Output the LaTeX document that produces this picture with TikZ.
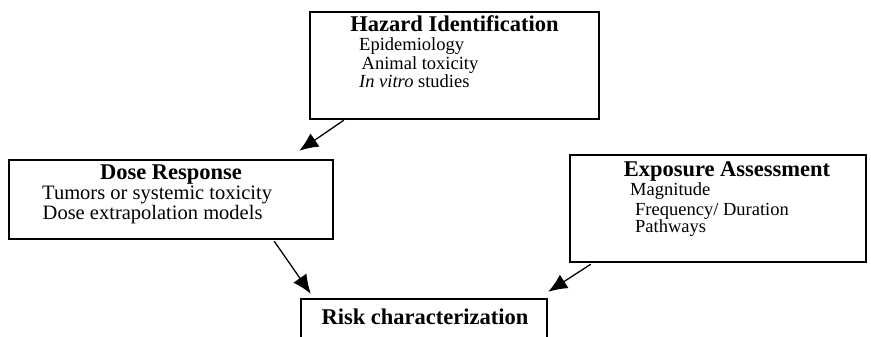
\documentclass[tikz,border=0pt]{standalone}
\usepackage{fontspec}
\setmainfont{Liberation Serif}
\usetikzlibrary{arrows.meta}
\newcommand{\ttlsize}{\fontsize{22.5}{25}\selectfont\bfseries}
\newcommand{\itemsize}{\fontsize{18.5}{21}\selectfont}
\newcommand{\doseitemsize}{\fontsize{20.5}{22}\selectfont}
\begin{document}
\begin{tikzpicture}[x=1pt, y=1pt,
		box/.style={draw, line width=2.4pt, inner sep=0pt},
		ttl/.style={anchor=base, font=\ttlsize, inner sep=0pt},
		item/.style={anchor=base west, font=\itemsize, inner sep=0pt},
		arr/.style={-{Latex[length=19pt, width=16pt]}, line width=1.3pt}]
		\clip (0,0) rectangle (871,-337);
		
		% the four boxes
		\node[box, minimum width=289pt, minimum height=107pt] (haz) at (454.5,-65.5) {};
		\node[box, minimum width=324pt, minimum height=79pt] (dose) at (171,-199.5) {};
		\node[box, minimum width=296pt, minimum height=107pt] (exp) at (718,-208.5) {};
		\node[box, minimum width=246pt, minimum height=70pt] (risk) at (424,-334) {};
		
		% titles
		\node[ttl] (hazt) at (454.5,-32) {Hazard Identification};
		\node[ttl] (doset) at (171,-179) {Dose Response};
		\node[ttl] (expt) at (727,-176) {Exposure Assessment};
		\node[ttl] (riskt) at (425,-324) {Risk characterization};
		
		% items of each box
		\node[item] (hz1) at (359,-51) {Epidemiology};
		\node[item] (hz2) at (361.5,-70) {Animal toxicity};
		\node[item] (hz3) at (359,-88) {\textit{In vitro} studies};
		\node[item, font=\doseitemsize] (ds1) at (42,-199) {Tumors or systemic toxicity};
		\node[item, font=\doseitemsize] (ds2) at (42.5,-219) {Dose extrapolation models};
		\node[item] (ex1) at (630,-195) {Magnitude};
		\node[item] (ex2) at (635,-215) {Frequency/ Duration};
		\node[item] (ex3) at (635,-232) {Pathways};
		
		% connectors
		\draw[arr] ([xshift=35pt]haz.south west) -- ([xshift=-35pt, yshift=8pt]dose.north east);
		\draw[arr] ([xshift=-60pt, yshift=-1pt]dose.south east) -- ([xshift=11pt, yshift=4pt]risk.north west);
		\draw[arr] ([xshift=22pt, yshift=-1pt]exp.south west) -- ([yshift=6pt]risk.north east);
	\end{tikzpicture}
\end{document}
